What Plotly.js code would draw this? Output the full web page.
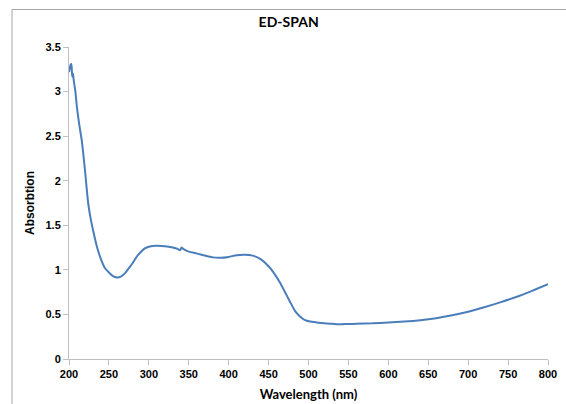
<!DOCTYPE html>
<html>
<head>
<meta charset="utf-8">
<script src="https://cdn.plot.ly/plotly-3.0.1.min.js"></script>
<style>
html,body{margin:0;padding:0;background:#fff;}
#chart{width:566px;height:404px;}
</style>
</head>
<body>
<div id="chart"></div>
<script>
const wavelength = [200,201,202,203,204,205,206,208,210,213,216,220,224,227,230,235,240,245,250,255,260,265,270,275,280,285,290,295,300,310,320,330,336,339,341,343,350,360,370,380,390,400,410,420,430,440,450,457,464,470,477,483,489,495,502,510,520,530,540,550,560,580,600,620,640,660,680,700,720,740,760,780,800];
const absorbance = [3.22,3.26,3.30,3.31,3.17,3.20,3.12,3.00,2.82,2.62,2.45,2.12,1.75,1.58,1.45,1.26,1.12,1.02,0.97,0.93,0.915,0.925,0.96,1.02,1.08,1.15,1.20,1.24,1.26,1.27,1.265,1.25,1.235,1.22,1.25,1.235,1.205,1.185,1.16,1.14,1.135,1.145,1.165,1.17,1.16,1.12,1.04,0.96,0.86,0.76,0.64,0.54,0.48,0.44,0.42,0.41,0.40,0.395,0.39,0.393,0.395,0.40,0.41,0.42,0.435,0.458,0.49,0.53,0.58,0.635,0.695,0.765,0.84];
const xTicks = [200,250,300,350,400,450,500,550,600,650,700,750,800];
const yTicks = [0,0.5,1,1.5,2,2.5,3,3.5];
const yTickLabels = ["0","0.5","1","1.5","2","2.5","3","3.5"];

const trace = {
  x: wavelength, y: absorbance, type: 'scatter', mode: 'lines',
  line: {color: '#4a7ebb', width: 2, shape: 'spline', smoothing: 0.6},
  hoverinfo: 'skip'
};
const tickFont = {family: '"Liberation Sans", Arial, sans-serif', size: 11, color: '#000', weight: 'bold'};
const layout = {
  width: 566, height: 404,
  margin: {l: 69, r: 18, t: 47, b: 45},
  paper_bgcolor: '#fff', plot_bgcolor: '#fff',
  showlegend: false,
  title: {text: '<b>ED-SPAN</b>', x: 0.51, xanchor: 'center', y: 0.945, yanchor: 'middle',
          font: {family: 'Lato, "Open Sans", sans-serif', size: 14, color: '#000'}},
  xaxis: {
    range: [200, 800], tickvals: xTicks, ticktext: xTicks.map(String),
    showgrid: false, zeroline: false, showline: true, linecolor: '#bfbfbf', linewidth: 1,
    ticks: 'outside', ticklen: 5, tickcolor: '#bfbfbf', tickfont: tickFont,
    title: {text: '<b>Wavelength (nm)</b>', font: {family: 'Lato, "Open Sans", sans-serif', size: 13, color: '#000'}, standoff: 10}
  },
  yaxis: {
    range: [0, 3.5], tickvals: yTicks, ticktext: yTickLabels,
    showgrid: false, zeroline: false, showline: true, linecolor: '#bfbfbf', linewidth: 1,
    ticks: 'outside', ticklen: 5, tickcolor: '#bfbfbf', tickfont: tickFont,
    title: {text: '<b>Absorbtion</b>', font: {family: '"Liberation Sans", Arial, sans-serif', size: 12, color: '#000'}, standoff: 8}
  },
  shapes: [{
    type: 'rect', xref: 'paper', yref: 'paper',
    x0: (12 - 69) / 479, x1: (580 - 69) / 479,
    y0: (359 - 420) / 312, y1: (359 - 9.5) / 312,
    line: {color: '#a6a6a6', width: 1}, fillcolor: 'rgba(0,0,0,0)', layer: 'below'
  }]
};
Plotly.newPlot('chart', [trace], layout, {displayModeBar: false, staticPlot: true});
</script>
</body>
</html>
